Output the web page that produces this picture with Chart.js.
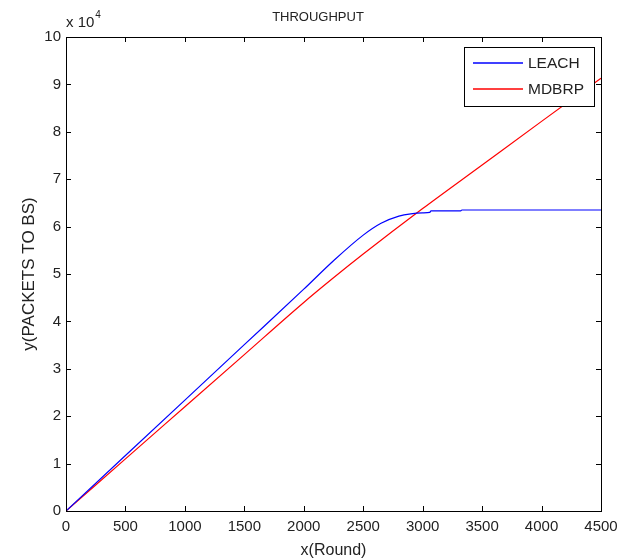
<!DOCTYPE html>
<html>
<head>
<meta charset="utf-8">
<title>THROUGHPUT</title>
<script src="https://cdn.jsdelivr.net/npm/chart.js@4.4.1/dist/chart.umd.min.js"></script>
<style>
  html, body { margin: 0; padding: 0; background: #fff; }
  #wrap { width: 628px; height: 560px; position: relative; }
</style>
</head>
<body>
<div id="wrap"><canvas id="tp"></canvas></div>
<script>
// values in units of 10^4 packets
const leachRounds  = [0, 500, 1000, 1500, 2000, 2250, 2500, 2650, 2800, 2900, 3000, 3060, 3070, 3320, 3330, 4500];
const leachPackets = [0, 1.17, 2.34, 3.51, 4.68, 5.28, 5.82, 6.07, 6.22, 6.27, 6.29, 6.30, 6.33, 6.33, 6.35, 6.35];
const mdbrpRounds  = [0, 500, 1000, 1500, 2000, 2250, 2500, 3000, 3500, 4000, 4500];
const mdbrpPackets = [0, 1.10, 2.20, 3.30, 4.40, 4.92, 5.42, 6.38, 7.30, 8.22, 9.13];
const seriesNames = ['LEACH', 'MDBRP'];
const seriesColors = ['#0000ff', '#ff0000'];
const chartTitle = 'THROUGHPUT';

const FONT = "'Liberation Sans', Arial, sans-serif";
const TXT = '#222';

const toPts = (xs, ys) => xs.map((x, i) => ({ x: x, y: ys[i] }));

// frame + inward ticks on all four sides, like matlab
const matlabAxes = {
    id: 'matlabAxes',
    afterDatasetsDraw(chart) {
        const { ctx, chartArea: a, scales: { x, y } } = chart;
        const len = 5;
        ctx.save();
        ctx.strokeStyle = '#000'; ctx.lineWidth = 1;
        ctx.beginPath();
        x.ticks.forEach(t => {
            const px = Math.round(x.getPixelForValue(t.value)) + 0.5;
            ctx.moveTo(px, a.bottom); ctx.lineTo(px, a.bottom - len);
            ctx.moveTo(px, a.top); ctx.lineTo(px, a.top + len);
        });
        y.ticks.forEach(t => {
            const py = Math.round(y.getPixelForValue(t.value)) + 0.5;
            ctx.moveTo(a.left, py); ctx.lineTo(a.left + len, py);
            ctx.moveTo(a.right, py); ctx.lineTo(a.right - len, py);
        });
        ctx.stroke();
        ctx.strokeRect(Math.round(a.left) + 0.5, Math.round(a.top) + 0.5, Math.round(a.right - a.left), Math.round(a.bottom - a.top));

        // title (matlab centres it a bit right of the canvas middle)
        ctx.fillStyle = TXT;
        ctx.textAlign = 'center'; ctx.textBaseline = 'middle';
        ctx.font = '13px ' + FONT;
        ctx.fillText(chartTitle, 318, 17);

        // exponent label
        ctx.textBaseline = 'alphabetic'; ctx.textAlign = 'left';
        ctx.font = '15px ' + FONT;
        ctx.fillText('x 10', a.left, a.top - 10);
        const w = ctx.measureText('x 10').width;
        ctx.font = '10px ' + FONT;
        ctx.fillText('4', a.left + w + 1, a.top - 19);

        // legend box
        const bx = a.right - 137, by = a.top + 10, bw = 130, bh = 59;
        ctx.fillStyle = '#fff';
        ctx.fillRect(bx, by, bw, bh);
        ctx.strokeStyle = '#000';
        ctx.strokeRect(bx + 0.5, by + 0.5, bw, bh);
        ctx.font = '15.5px ' + FONT;
        ctx.textBaseline = 'middle';
        seriesNames.forEach((name, i) => {
            const ly = by + 16 + i * 26;
            ctx.strokeStyle = seriesColors[i];
            ctx.lineWidth = 1.5;
            ctx.beginPath();
            ctx.moveTo(bx + 9, ly); ctx.lineTo(bx + 59, ly);
            ctx.stroke();
            ctx.fillStyle = TXT;
            ctx.fillText(name, bx + 64, ly + 1);
        });
        ctx.restore();
    }
};

new Chart(document.getElementById('tp'), {
    type: 'line',
    data: {
        datasets: [
            { label: seriesNames[0], data: toPts(leachRounds, leachPackets), borderColor: seriesColors[0], borderWidth: 1.2, pointRadius: 0, cubicInterpolationMode: 'monotone', fill: false },
            { label: seriesNames[1], data: toPts(mdbrpRounds, mdbrpPackets), borderColor: seriesColors[1], borderWidth: 1.2, pointRadius: 0, cubicInterpolationMode: 'monotone', fill: false }
        ]
    },
    options: {
        responsive: true, maintainAspectRatio: false, animation: false,
        layout: { padding: { left: 0, right: 27, top: 37, bottom: 0 } },
        plugins: {
            legend: { display: false },
            tooltip: { enabled: false },
            title: { display: false }
        },
        scales: {
            x: {
                type: 'linear', min: 0, max: 4500,
                grid: { display: false, drawTicks: false }, border: { display: false },
                ticks: { stepSize: 500, padding: 7, color: TXT, font: { family: FONT, size: 15 }, maxRotation: 0, autoSkip: false,
                         callback: v => String(v) },
                title: { display: true, text: 'x(Round)', color: TXT, font: { family: FONT, size: 16 }, padding: { top: 0, bottom: 0 } },
                afterFit: s => { s.height = 49; }
            },
            y: {
                min: 0, max: 10,
                grid: { display: false, drawTicks: false }, border: { display: false },
                ticks: { stepSize: 1, padding: 5, color: TXT, font: { family: FONT, size: 15 }, callback: v => String(v) },
                title: { display: true, text: 'y(PACKETS TO BS)', color: TXT, font: { family: FONT, size: 17 }, padding: { top: 19, bottom: 0 } },
                afterFit: s => { s.width = 66; }
            }
        }
    },
    plugins: [matlabAxes]
});
</script>
</body>
</html>
